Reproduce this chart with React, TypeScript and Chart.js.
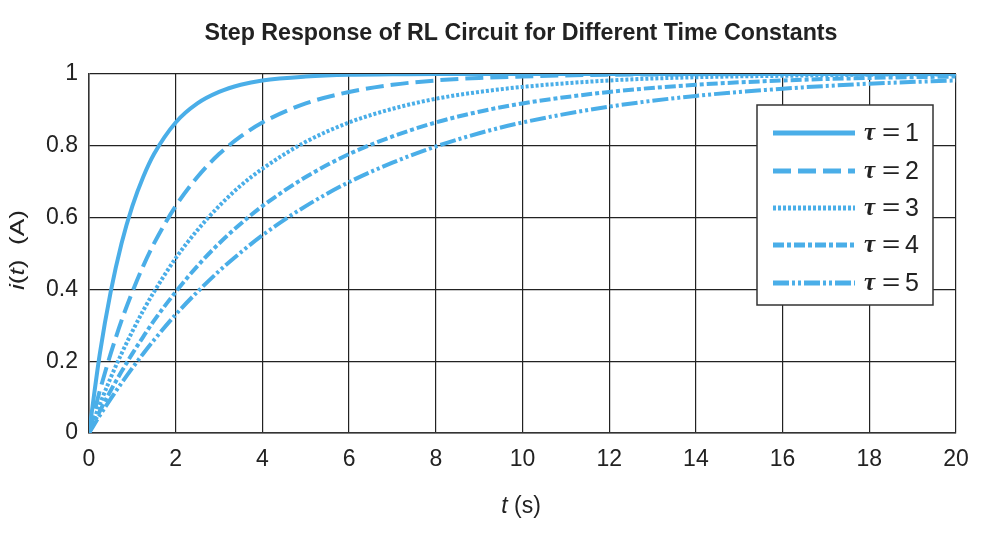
import { useEffect, useRef } from "react";
import { Chart, registerables } from "chart.js";

Chart.register(...registerables);

const TITLE = "Step Response of RL Circuit for Different Time Constants";
const SANS = '"Liberation Sans", Arial, Helvetica, sans-serif';
const SERIF = '"Liberation Serif", "DejaVu Serif", serif';
const INK = "#222222";
const CURVE = "#4aaee8";

// Time samples (s)
const TIME = [0, 0.25, 0.5, 0.75, 1, 1.25, 1.5, 2, 2.5, 3, 3.5, 4, 5, 6, 7, 8, 9, 10, 12, 14, 16, 18, 20];

// Current i(t) in amperes for each time constant
const I_TAU1 = [0, 0.221, 0.393, 0.528, 0.632, 0.713, 0.777, 0.865, 0.918, 0.95, 0.97, 0.982, 0.993, 0.998, 0.999, 1, 1, 1, 1, 1, 1, 1, 1];
const I_TAU2 = [0, 0.118, 0.221, 0.313, 0.393, 0.465, 0.528, 0.632, 0.713, 0.777, 0.826, 0.865, 0.918, 0.95, 0.97, 0.982, 0.989, 0.993, 0.998, 0.999, 1, 1, 1];
const I_TAU3 = [0, 0.08, 0.154, 0.221, 0.283, 0.341, 0.393, 0.487, 0.565, 0.632, 0.689, 0.736, 0.811, 0.865, 0.903, 0.931, 0.95, 0.964, 0.982, 0.991, 0.995, 0.998, 0.999];
const I_TAU4 = [0, 0.061, 0.118, 0.171, 0.221, 0.268, 0.313, 0.393, 0.465, 0.528, 0.583, 0.632, 0.713, 0.777, 0.826, 0.865, 0.895, 0.918, 0.95, 0.97, 0.982, 0.989, 0.993];
const I_TAU5 = [0, 0.049, 0.095, 0.139, 0.181, 0.221, 0.259, 0.33, 0.393, 0.451, 0.503, 0.551, 0.632, 0.699, 0.753, 0.798, 0.835, 0.865, 0.909, 0.939, 0.959, 0.973, 0.982];

const TAU_VALUES = ["1", "2", "3", "4", "5"];
const SERIES = [I_TAU1, I_TAU2, I_TAU3, I_TAU4, I_TAU5];
const DASHES: number[][] = [[], [18, 7], [3, 2], [11, 3, 4, 3], [16, 3, 3, 3, 3, 3]];

const X_TICKS = [0, 2, 4, 6, 8, 10, 12, 14, 16, 18, 20];
const Y_TICKS = [0, 0.2, 0.4, 0.6, 0.8, 1];

type Run = { text: string; font: string };

// Draws a row of differently styled text pieces centred on (cx, cy),
// stretched along the text direction by `sx`.
function drawRuns(ctx: CanvasRenderingContext2D, runs: Run[], cx: number, cy: number, sx = 1) {
  let total = 0;
  for (const r of runs) {
    ctx.font = r.font;
    total += ctx.measureText(r.text).width;
  }
  ctx.save();
  ctx.translate(cx, cy);
  ctx.scale(sx, 1);
  let x = -total / 2;
  ctx.textAlign = "left";
  ctx.textBaseline = "middle";
  for (const r of runs) {
    ctx.font = r.font;
    ctx.fillText(r.text, x, 0);
    x += ctx.measureText(r.text).width;
  }
  ctx.restore();
}

const overlay = {
  id: "overlay",
  afterDraw(chart: any) {
    const { ctx } = chart;
    ctx.save();
    ctx.fillStyle = INK;

    // Title, condensed to its set width
    ctx.font = `bold 24px ${SANS}`;
    const tw = ctx.measureText(TITLE).width;
    drawRuns(ctx, [{ text: TITLE, font: `bold 24px ${SANS}` }], 521, 33, 633 / tw);

    // x axis title
    drawRuns(
      ctx,
      [
        { text: "t", font: `italic 23px ${SANS}` },
        { text: " (s)", font: `23px ${SANS}` },
      ],
      521,
      507
    );

    // y axis title
    ctx.save();
    ctx.translate(18, 250);
    ctx.rotate(-Math.PI / 2);
    drawRuns(
      ctx,
      [
        { text: "i", font: `italic 21px ${SANS}` },
        { text: "(", font: `21px ${SANS}` },
        { text: "t", font: `italic 21px ${SANS}` },
        { text: ")  (A)", font: `21px ${SANS}` },
      ],
      0,
      0,
      1.25
    );
    ctx.restore();

    // Legend box
    const bx = 757, by = 105, bw = 176, bh = 200;
    ctx.fillStyle = "#ffffff";
    ctx.fillRect(bx, by, bw, bh);
    ctx.strokeStyle = "#333333";
    ctx.lineWidth = 1.5;
    ctx.strokeRect(bx, by, bw, bh);

    const rows = [133, 171, 208, 245, 283];
    rows.forEach((ry, i) => {
      ctx.strokeStyle = CURVE;
      ctx.lineWidth = 5;
      ctx.lineCap = "butt";
      ctx.setLineDash(DASHES[i]);
      ctx.beginPath();
      ctx.moveTo(773, ry);
      ctx.lineTo(855, ry);
      ctx.stroke();
      ctx.setLineDash([]);
      ctx.fillStyle = INK;
      ctx.textAlign = "left";
      ctx.textBaseline = "middle";
      ctx.font = `italic bold 25px ${SERIF}`;
      ctx.fillText("\u03c4", 864, ry + 1);
      ctx.save();
      ctx.translate(882, ry);
      ctx.scale(1.3, 1);
      ctx.font = `24px ${SANS}`;
      ctx.fillText("=", 0, 0);
      ctx.restore();
      ctx.font = `25px ${SANS}`;
      ctx.fillText(TAU_VALUES[i], 905, ry + 1);
    });

    ctx.restore();
  },
};

export default function App() {
  const ref = useRef<HTMLCanvasElement | null>(null);

  useEffect(() => {
    document.body.style.margin = "0";
    const canvas = ref.current;
    if (!canvas) return;

    const datasets = SERIES.map((ys, i) => ({
      label: "\u03c4 = " + TAU_VALUES[i],
      data: TIME.map((t, k) => ({ x: t, y: ys[k] })),
      borderColor: CURVE,
      backgroundColor: CURVE,
      borderWidth: 4,
      borderDash: DASHES[i],
      borderCapStyle: "butt" as const,
      pointRadius: 0,
      showLine: true,
      fill: false,
      cubicInterpolationMode: "monotone" as const,
    }));

    const chart = new Chart(canvas, {
      type: "scatter",
      data: { datasets },
      options: {
        responsive: false,
        animation: false,
        events: [],
        layout: { padding: { left: 0, top: 74, right: 34, bottom: 0 } },
        plugins: {
          legend: { display: false },
          title: { display: false },
          tooltip: { enabled: false },
        },
        scales: {
          x: {
            type: "linear",
            min: 0,
            max: 20,
            afterFit: (s: any) => {
              s.height = 118;
            },
            afterBuildTicks: (s: any) => {
              s.ticks = X_TICKS.map((v) => ({ value: v }));
            },
            grid: { color: INK, lineWidth: 1.2, drawTicks: false },
            border: { display: true, color: "#333", width: 1.5 },
            ticks: {
              color: INK,
              padding: 13,
              maxRotation: 0,
              font: { family: SANS, size: 23 },
              callback: (v: any) => String(v),
            },
          },
          y: {
            type: "linear",
            min: 0,
            max: 1,
            afterFit: (s: any) => {
              s.width = 89;
            },
            afterBuildTicks: (s: any) => {
              s.ticks = Y_TICKS.map((v) => ({ value: v }));
            },
            grid: { color: INK, lineWidth: 1.2, drawTicks: false },
            border: { display: true, color: "#333", width: 1.5 },
            ticks: {
              color: INK,
              padding: 11,
              font: { family: SANS, size: 23 },
              callback: (v: any) => {
                const n = Number(v);
                return n === 0 || n === 1 ? String(n) : n.toFixed(1);
              },
            },
          },
        },
      },
      plugins: [overlay],
    });

    return () => chart.destroy();
  }, []);

  return <canvas ref={ref} width={990} height={551} style={{ display: "block" }} />;
}
